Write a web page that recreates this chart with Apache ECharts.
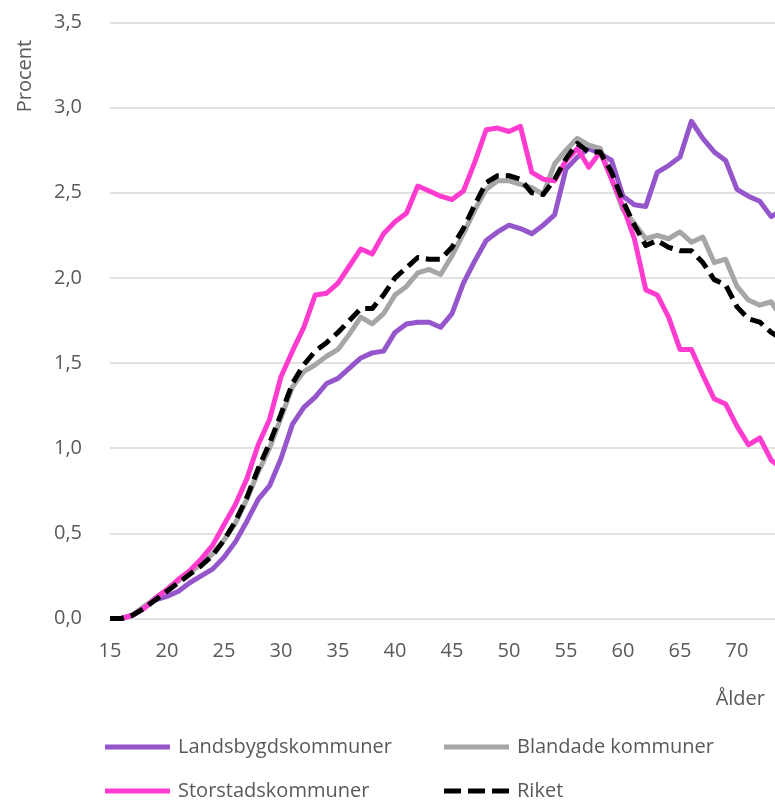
<!DOCTYPE html>
<html>
<head>
<meta charset="utf-8">
<script src="https://cdn.jsdelivr.net/npm/echarts@6/dist/echarts.min.js"></script>
<style>
  html, body { margin: 0; padding: 0; overflow: hidden; background: #fff; }
  #chart { width: 800px; height: 801px; }
</style>
</head>
<body>
<div id="chart"></div>
<script>
// Age in years, 15..74
const ages = [];
for (let a = 15; a <= 74; a++) ages.push(a);

// Share (percent) by age for each municipality group
const landsbygd = [
  0.00, 0.00, 0.02, 0.07, 0.11, 0.13, 0.16, 0.21, 0.25, 0.29,
  0.36, 0.45, 0.57, 0.70, 0.78, 0.94, 1.14, 1.24, 1.30, 1.38,
  1.41, 1.47, 1.53, 1.56, 1.57, 1.68, 1.73, 1.74, 1.74, 1.71,
  1.79, 1.97, 2.10, 2.22, 2.27, 2.31, 2.29, 2.26, 2.31, 2.37,
  2.64, 2.71, 2.76, 2.73, 2.69, 2.48, 2.43, 2.42, 2.62, 2.66,
  2.71, 2.92, 2.82, 2.74, 2.69, 2.52, 2.48, 2.45, 2.36, 2.40
];
const blandade = [
  0.00, 0.00, 0.02, 0.07, 0.12, 0.17, 0.22, 0.27, 0.32, 0.38,
  0.46, 0.56, 0.70, 0.86, 1.00, 1.18, 1.36, 1.45, 1.49, 1.54,
  1.58, 1.67, 1.77, 1.73, 1.79, 1.90, 1.95, 2.03, 2.05, 2.02,
  2.13, 2.26, 2.40, 2.52, 2.57, 2.57, 2.55, 2.53, 2.49, 2.67,
  2.75, 2.82, 2.78, 2.76, 2.58, 2.40, 2.32, 2.23, 2.25, 2.23,
  2.27, 2.21, 2.24, 2.09, 2.11, 1.95, 1.87, 1.84, 1.86, 1.76
];
const storstad = [
  0.00, 0.00, 0.02, 0.06, 0.12, 0.17, 0.23, 0.28, 0.35, 0.43,
  0.55, 0.67, 0.82, 1.02, 1.17, 1.42, 1.57, 1.71, 1.90, 1.91,
  1.97, 2.07, 2.17, 2.14, 2.26, 2.33, 2.38, 2.54, 2.51, 2.48,
  2.46, 2.51, 2.68, 2.87, 2.88, 2.86, 2.89, 2.62, 2.58, 2.57,
  2.69, 2.76, 2.65, 2.74, 2.58, 2.42, 2.23, 1.93, 1.90, 1.77,
  1.58, 1.58, 1.43, 1.29, 1.26, 1.13, 1.02, 1.06, 0.93, 0.88
];
const riket = [
  0.00, 0.00, 0.02, 0.06, 0.11, 0.16, 0.21, 0.26, 0.31, 0.37,
  0.46, 0.57, 0.71, 0.88, 1.03, 1.20, 1.38, 1.49, 1.57, 1.62,
  1.68, 1.75, 1.82, 1.82, 1.90, 2.00, 2.06, 2.12, 2.11, 2.11,
  2.18, 2.29, 2.43, 2.56, 2.60, 2.60, 2.58, 2.50, 2.49, 2.58,
  2.70, 2.79, 2.74, 2.74, 2.62, 2.45, 2.31, 2.19, 2.22, 2.18,
  2.16, 2.16, 2.09, 1.99, 1.96, 1.83, 1.76, 1.74, 1.68, 1.64
];

const seriesNames = ['Landsbygdskommuner', 'Blandade kommuner', 'Storstadskommuner', 'Riket'];
const yTicks = { min: 0, max: 3.5, step: 0.5 };
const xTicks = { min: 15, max: 75, step: 5 };

const textColor = '#595959';
const font = 'Open Sans';
const pairs = vals => ages.map((a, i) => [a, vals[i]]);

// Legend keys: a thick bar, or three short bars for the dashed series
const solidKey = 'path://M0,0H65V5H0Z';
const dashedKey = 'path://M0,0H17V5H0Z M24,0H41V5H24Z M48,0H65V5H48Z';

const chart = echarts.init(document.getElementById('chart'), null, { renderer: 'canvas' });

function lineSeries(name, vals, color, type, z) {
  return {
    name: name,
    type: 'line',
    data: pairs(vals),
    symbol: 'none',
    smooth: false,
    z: z,
    lineStyle: { color: color, width: 5, type: type, cap: 'butt', join: 'round' },
    itemStyle: { color: color }
  };
}

function legendAt(name, icon, left, top) {
  return {
    data: [{ name: name, icon: icon }],
    left: left,
    top: top,
    padding: 0,
    itemWidth: 65,
    itemHeight: 5,
    itemGap: 0,
    selectedMode: false,
    textStyle: { color: textColor, fontSize: 20, fontFamily: font, padding: [0, 0, 0, 3] }
  };
}

chart.setOption({
  animation: false,
  backgroundColor: '#fff',
  // the plot runs on past the right edge of the visible page
  grid: { left: 110, right: 6, top: 22.5, bottom: 182.5, containLabel: false, outerBoundsMode: 'none' },
  xAxis: {
    type: 'value',
    min: xTicks.min,
    max: xTicks.max,
    interval: xTicks.step,
    axisLine: { show: false },
    axisTick: { show: false },
    splitLine: { show: false },
    axisLabel: { color: textColor, fontSize: 20, fontFamily: font, margin: 23 }
  },
  yAxis: {
    type: 'value',
    min: yTicks.min,
    max: yTicks.max,
    interval: yTicks.step,
    axisLine: { show: false },
    axisTick: { show: false },
    splitLine: { lineStyle: { color: '#d9d9d9', width: 1.6 } },
    axisLabel: {
      color: textColor, fontSize: 20, fontFamily: font, margin: 28,
      formatter: v => v.toFixed(1).replace('.', ',')
    }
  },
  legend: [
    legendAt(seriesNames[0], solidKey, 105, 737),
    legendAt(seriesNames[1], solidKey, 444, 737),
    legendAt(seriesNames[2], solidKey, 105, 781),
    legendAt(seriesNames[3], dashedKey, 444, 781)
  ],
  graphic: [
    {
      type: 'text', x: 25, y: 76, rotation: Math.PI / 2,
      style: { text: 'Procent', fill: textColor, fontSize: 20, fontFamily: font, align: 'center', verticalAlign: 'middle' }
    },
    {
      type: 'text', x: 765, y: 699,
      style: { text: 'Ålder', fill: textColor, fontSize: 20, fontFamily: font, align: 'right', verticalAlign: 'middle' }
    }
  ],
  series: [
    lineSeries(seriesNames[0], landsbygd, '#9556cc', 'solid', 2),
    lineSeries(seriesNames[1], blandade, '#a6a6a6', 'solid', 3),
    lineSeries(seriesNames[2], storstad, '#ff3ccf', 'solid', 4),
    lineSeries(seriesNames[3], riket, '#000000', [14, 7], 5)
  ]
});
</script>
</body>
</html>
